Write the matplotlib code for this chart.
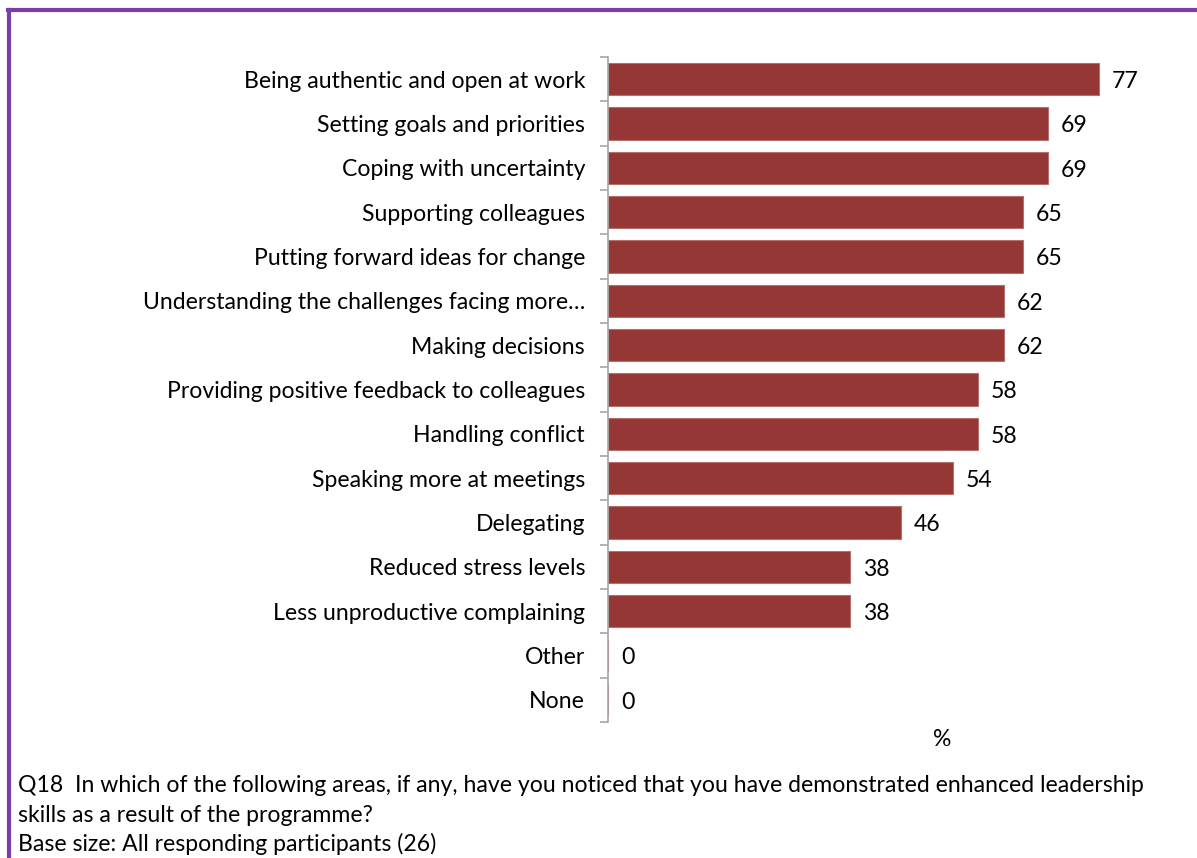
import matplotlib.pyplot as plt
from matplotlib.lines import Line2D

categories = [
    "Being authentic and open at work",
    "Setting goals and priorities",
    "Coping with uncertainty",
    "Supporting colleagues",
    "Putting forward ideas for change",
    "Understanding the challenges facing more\u2026",
    "Making decisions",
    "Providing positive feedback to colleagues",
    "Handling conflict",
    "Speaking more at meetings",
    "Delegating",
    "Reduced stress levels",
    "Less unproductive complaining",
    "Other",
    "None",
]
values = [77, 69, 69, 65, 65, 62, 62, 58, 58, 54, 46, 38, 38, 0, 0]

caption = [
    "Q18  In which of the following areas, if any, have you noticed that you have demonstrated enhanced leadership",
    "skills as a result of the programme?",
    "Base size: All responding participants (26)",
]

plt.rcParams['font.family'] = ['Lato', 'DejaVu Sans']
FS = 16.6

W, H = 1197, 858
fig = plt.figure(figsize=(W / 100, H / 100), dpi=100)

# plot area in pixel terms
ax_left, ax_top, ax_bottom = 608, 57, 722
xmax = 85
px_per_unit = 6.38
ax_w = xmax * px_per_unit
ax = fig.add_axes([ax_left / W, 1 - ax_bottom / H, ax_w / W, (ax_bottom - ax_top) / H])

n = len(categories)
ypos = list(range(n))
ax.barh(ypos, values, height=0.73, color='#953735', edgecolor='#b56f6d', linewidth=0.8)
ax.set_ylim(n - 0.5, -0.5)
ax.set_xlim(0, xmax)

for y, v in zip(ypos, values):
    ax.text(v + 2.0, y + 0.05, f"{v}", va='center', ha='left', fontsize=FS, color='black')

ax.set_yticks(ypos)
ax.set_yticklabels(categories, fontsize=FS)
ax.tick_params(axis='y', length=0, pad=16.5)
# category boundary ticks
ax.set_yticks([i - 0.5 for i in range(n + 1)], minor=True)
ax.tick_params(axis='y', which='minor', length=6, width=1.2, color='#a6a6a6', direction='out')

ax.set_xticks([])
for s in ['top', 'right', 'bottom']:
    ax.spines[s].set_visible(False)
ax.spines['left'].set_color('#a6a6a6')
ax.spines['left'].set_linewidth(1.2)

fig.text(942 / W, 1 - 740 / H, "%", ha='center', va='center', fontsize=FS)

for i, line in enumerate(caption):
    fig.text(18 / W, 1 - (786 + i * 29) / H, line, ha='left', va='center', fontsize=FS)

# frame lines along top and left edges
purple = '#7a3ea8'
fig.add_artist(Line2D([8 / W, 1], [1 - 10 / H, 1 - 10 / H], color=purple, linewidth=3, transform=fig.transFigure))
fig.add_artist(Line2D([8.5 / W, 8.5 / W], [0, 1 - 10 / H], color=purple, linewidth=3, transform=fig.transFigure))

fig.savefig('out.png', dpi=100)
